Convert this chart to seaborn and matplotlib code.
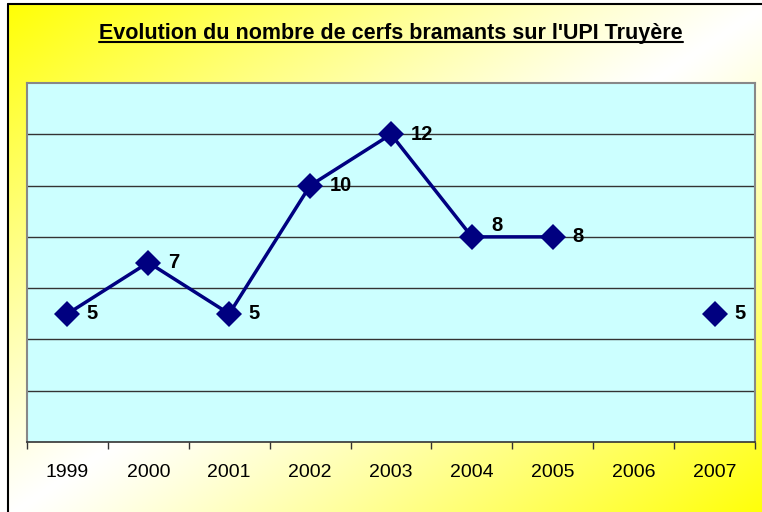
import numpy as np
import pandas as pd
import matplotlib
matplotlib.use("Agg")
from matplotlib import pyplot as plt
from matplotlib.lines import Line2D
import seaborn as sns

# données (2006 : pas de comptage)
annees = ["1999", "2000", "2001", "2002", "2003", "2004", "2005", "2006", "2007"]
cerfs = [5, 7, 5, 10, 12, 8, 8, np.nan, 5]
titre = "Evolution du nombre de cerfs bramants sur l'UPI Truyère"

sns.set_theme(style="white")
plt.rcParams['font.family'] = ['Liberation Sans', 'DejaVu Sans']

df = pd.DataFrame({"annee": annees, "cerfs": cerfs})
df["pos"] = np.arange(len(df))
df["segment"] = df["cerfs"].isna().cumsum()  # coupe la ligne là où il manque une valeur

W, H = 762, 512
fig = plt.figure(figsize=(W / 100, H / 100), dpi=100)
fig.patch.set_facecolor("white")

# fond dégradé jaune -> blanc -> jaune
bg = fig.add_axes([8 / W, -0.01, 1 - 8 / W + 0.01, 1 - 4 / H + 0.01], zorder=-10)
xx, yy = np.meshgrid(np.linspace(0, 1, 300), np.linspace(0, 1, 200))
t = (xx + yy) / 2
k = np.abs(2 * t - 1) ** 1.1
img = np.dstack([np.ones_like(k), np.ones_like(k), 1 - k * 0.98])
bg.imshow(img, aspect="auto", extent=[0, 1, 1, 0])
bg.set_xlim(0, 1)
bg.set_ylim(1, 0)
bg.axis("off")
fig.add_artist(Line2D([8 / W, 8 / W], [0, 1 - 4 / H], color="black", lw=1.5))
fig.add_artist(Line2D([8 / W, 1], [1 - 4 / H, 1 - 4 / H], color="black", lw=1.5))

ax = fig.add_axes([27 / W, 1 - 442 / H, (755 - 27) / W, (442 - 83) / H])
ax.set_facecolor("#ccffff")

sns.lineplot(data=df.dropna(), x="pos", y="cerfs", units="segment", estimator=None,
             color="#000080", lw=2.5, marker="D", markersize=13, markeredgewidth=0,
             ax=ax, legend=False, zorder=5)

vals = df["cerfs"].tolist()
for i, (p, v) in enumerate(zip(df["pos"], vals)):
    if np.isnan(v):
        continue
    # étiquette remontée si la ligne part à l'horizontale vers la droite
    dy = 8 if i + 1 < len(vals) and vals[i + 1] == v else 0
    ax.annotate(f"{v:g}", (p, v), xytext=(14, dy), textcoords="offset points",
                ha="left", va="center", fontsize=14.5, fontweight="bold", color="black")

ax.set_xlim(-0.5, len(annees) - 0.5)
ax.set_ylim(0, 14)
ax.set_yticks(np.arange(2, 13, 2))
ax.set_yticklabels([])
ax.tick_params(axis="y", length=0)
ax.yaxis.grid(True, color="#333333", lw=1)
ax.xaxis.grid(False)
ax.set_axisbelow(True)

ax.set_xticks(df["pos"])
ax.set_xticklabels(annees, fontsize=14, color="black")
ax.set_xticks(np.arange(-0.5, len(annees)), minor=True)
ax.tick_params(axis="x", which="major", length=0, pad=16)
ax.tick_params(axis="x", which="minor", length=5, width=1, color="#333333",
               direction="out", bottom=True)
ax.set_xlabel("")
ax.set_ylabel("")

for s in ["top", "left", "right"]:
    ax.spines[s].set_color("#888888")
    ax.spines[s].set_linewidth(1.5)
ax.spines["bottom"].set_color("#333333")
ax.spines["bottom"].set_linewidth(1.2)

# titre souligné
tt = fig.text(391 / W, 1 - 33 / H, titre, ha="center", va="center",
              fontsize=15.5, fontweight="bold", color="black")
fig.canvas.draw()
bb = tt.get_window_extent().transformed(fig.transFigure.inverted())
fig.add_artist(Line2D([bb.x0, bb.x1], [bb.y0 + 0.002, bb.y0 + 0.002], color="black", lw=1.5))

fig.savefig("out.png", dpi=100)
